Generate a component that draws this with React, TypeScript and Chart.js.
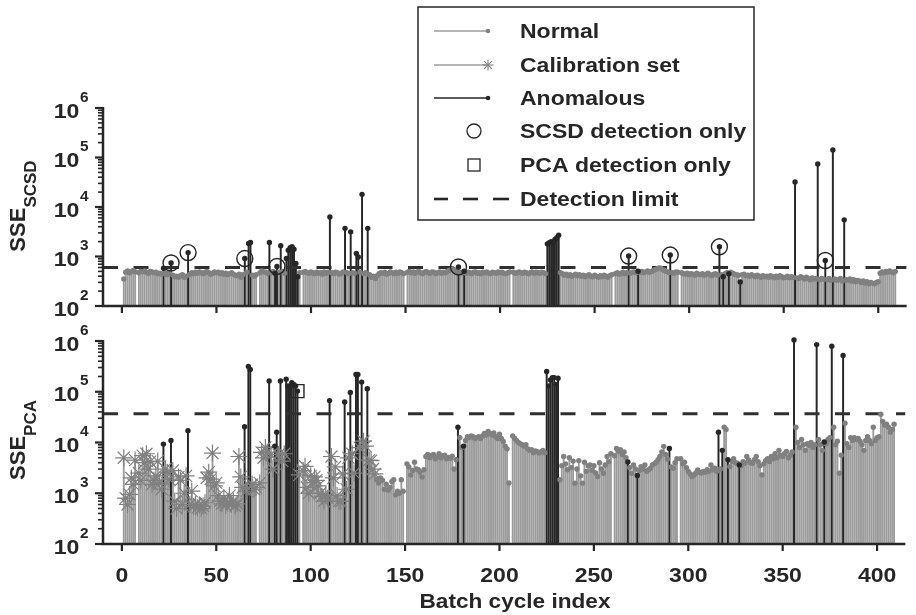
import React, { useEffect, useRef } from 'react';
import { Chart, registerables } from 'chart.js';

Chart.register(...registerables);

// ---------------- data ----------------
const xTicks = [0, 50, 100, 150, 200, 250, 300, 350, 400];
const yExponents = [2, 3, 4, 5, 6];

// SSE_SCSD per batch cycle (index 1..409), null = missing cycle
const scsdValues: (number | null)[] = [
  350, 480, 510, 470, 500, 520, 490, null, 470, 500,
  490, 510, 480, 460, 500, 490, 470, 480, 450, 460,
  440, 580, 470, 430, 480, 740, 420, 390, 400, 380,
  410, 430, 380, 400, 1200, 440, 470, 450, 480, 460,
  490, 470, 450, 480, 500, 470, 440, 460, 490, 470,
  480, 450, 470, 440, 460, 430, 450, 470, 440, 420,
  410, 440, 380, 430, 910, 480, 1830, 1920, 420, 400,
  430, null, 470, 510, 490, 480, 460, 1920, 470, 500,
  460, 630, 480, 1650, 500, 460, 910, 1340, 1500, 1580,
  1400, 720, 390, 470, null, 480, 500, 470, 460, 490,
  470, 450, 480, 460, 470, 440, 490, 460, 480, 6300,
  470, 450, 480, 470, 440, 460, 490, 3700, 470, 450,
  3150, 470, 460, 1150, 980, 480, 18000, 450, 470, 3700,
  430, 380, 400, 360, 410, 450, 470, 460, 480, 440,
  460, 490, 470, 450, 480, 460, 490, 470, 450, null,
  480, 500, 470, 490, 460, 480, 500, 470, 450, 480,
  500, 470, 460, 490, 480, 450, 470, 490, 460, 480,
  470, 500, 520, 540, 560, 530, 510, 615, 480, 470,
  505, 460, 480, 470, 450, 480, 490, 460, 470, 450,
  480, 470, 490, 460, 450, 480, 470, 460, 490, 470,
  480, 460, 450, 470, 490, null, 480, 460, 470, 490,
  470, 460, 480, 470, 450, 470, 490, 460, 480, 470,
  460, 480, 470, 450, 1800, 1900, 2000, 1850, 2200, 2400,
  2700, 470, 450, 420, 440, 410, 430, 400, 420, 440,
  410, 430, 400, 420, 390, 410, 430, 400, 390, 420,
  400, 380, 410, 390, 420, 400, 380, 410, 430, null,
  450, 470, 440, 460, 480, 450, 470, 1020, 460, 480,
  490, 470, 505, 480, 500, 470, 490, 510, 480, 500,
  520, 540, 560, 590, 580, 540, 520, 500, 480, 1070,
  470, 460, 490, 480, null, 470, 450, 440, 460, 430,
  450, 440, 420, 460, 440, 430, 450, 420, 440, 460,
  430, 410, 440, 450, 420, 1570, 430, 390, 450, 470,
  450, 480, 460, 440, 430, 420, 305, 430, 440, 410,
  420, 400, 430, 410, 390, 420, 400, 380, 410, 390,
  400, 380, 410, 390, 370, 400, 380, 410, 390, 370,
  380, 400, 370, 390, 380, 32000, 370, 360, 390, 370,
  350, 380, 360, 340, 370, 350, 360, 74000, 340, 360,
  350, 830, 340, 360, 330, 142000, 350, 330, 340, 360,
  320, 5500, 340, 330, 350, 320, 340, 310, 330, 320,
  300, 320, 290, 310, 280, 300, 290, 280, 300, 310,
  460, 490, 470, 500, 480, 510, 490, 470, 500,
];

// SSE_PCA per batch cycle (index 1..409)
const pcaValues: (number | null)[] = [
  5000, 800, 600, 950, 2000, 1500, 4500, null, 2500, 1800,
  5500, 4000, 6000, 3000, 4200, 1500, 1800, 2200, 4300, 1600,
  1200, 9300, 3000, 2600, 1900, 11000, 2800, 700, 500, 2100,
  1800, 600, 1000, 2200, 17000, 600, 1100, 550, 600, 520,
  580, 500, 560, 650, 2000, 2600, 1900, 6200, 1400, 1600,
  900, 700, 620, 800, 580, 650, 900, 600, 700, 560,
  620, 5300, 2100, 1300, 20500, 1100, 316000, 275000, 1500, 1200,
  1300, null, 1600, 6400, 5000, 8000, 6500, 163000, 5800, 3000,
  8500, 16000, 5800, 163000, 4300, 6000, 177000, 130000, 125000, 150000,
  140000, 130000, 103000, 2300, null, 2800, 3400, 1300, 1000, 2200,
  1600, 2100, 1800, 1400, 1000, 870, 700, 930, 800, 67000,
  5300, 2000, 3300, 900, 700, 690, 2400, 63000, 1200, 5000,
  97000, 6000, 2500, 219000, 219000, 7900, 155000, 10600, 8500, 115000,
  4500, 4400, 3000, 2400, 1900, 1600, 2000, 1800, 1200, 1500,
  1150, 1300, 1700, 1850, 930, 1100, 1000, 1850, 1100, null,
  3800, 3300, 2300, 2800, 4100, 3000, 2900, 2600, 2100, 2900,
  5300, 5800, 5000, 5500, 5800, 4800, 5200, 6000, 5000, 5500,
  5600, 4800, 5100, 4900, 5400, 3000, 4600, 20000, 12500, 8000,
  8500, 11000, 13000, 12500, 13500, 13000, 12000, 12500, 13000, 12000,
  13500, 15000, 14000, 16500, 15000, 14000, 15500, 13000, 12000, 14500,
  12000, 10500, 8500, 7500, 1600, null, 13500, 12000, 11000, 10000,
  9500, 9000, 8500, 9000, 7500, 7000, 7200, 6300, 6800, 6600,
  6200, 6500, 7000, 6300, 250000, 130000, 170000, 190000, 190000, 140000,
  185000, 1850, 3500, 5300, 3800, 2900, 5000, 3200, 4300, 1580,
  3000, 4400, 2200, 1580, 4100, 2700, 3500, 3600, 2800, 3500,
  2500, 2130, 4000, 3000, 2470, 3600, 5300, 4200, 6000, null,
  5500, 7600, 6700, 7200, 5800, 6500, 5000, 4150, 3200, 2470,
  3600, 3000, 2230, 2800, 3350, 3000, 3600, 2700, 2900, 3100,
  3600, 3800, 4100, 4600, 5300, 6500, 8400, 5800, 4700, 7600,
  3300, 3100, 4000, 4800, null, 4800, 3800, 4100, 3200, 2700,
  2400, 2130, 2300, 2500, 2870, 2600, 2500, 2700, 2600, 2900,
  2700, 3600, 2900, 3100, 2700, 16000, 3000, 7000, 20000, 18000,
  4600, 3350, 4200, 4800, 4000, 3900, 3600, 3500, 4200, 3900,
  5300, 4500, 4000, 3900, 4600, 5300, 4200, 3500, 2300, 3800,
  4400, 4800, 4200, 5300, 4800, 6000, 5000, 7000, 5600, 5300,
  6000, 6700, 5000, 5600, 6500, 1050000, 20000, 10000, 8000, 11500,
  9000, 7000, 9500, 8800, 10000, 8000, 9000, 850000, 11500, 9000,
  7000, 10200, 9500, 11500, 12500, 790000, 20000, 9000, 10600, 2470,
  5600, 520000, 24000, 9500, 8000, 12500, 11000, 12500, 11500, 12000,
  10600, 9000, 7000, 11000, 13000, 11000, 9500, 20000, 11000, 12500,
  13000, 36000, 26000, 22000, 23000, 20000, 16000, 18000, 23000,
];

const anomalousIdx = [
  22, 26, 35, 65, 67, 68, 78, 81, 82, 84, 87, 88, 89, 90, 91, 92, 93,
  110, 118, 121, 124, 125, 127, 130, 178, 181,
  225, 226, 227, 228, 229, 230, 231,
  268, 273, 290, 316, 318, 321, 327, 356, 368, 372, 376, 382,
];
const calibrationLastIdx = 134;
const scsdOnlyIdx = [26, 35, 65, 82, 178, 268, 290, 316, 372];
const pcaOnlyIdx = [93];
const scsdLimit = 600;
const pcaLimit = 37000;
const legendLabels = [
  'Normal',
  'Calibration set',
  'Anomalous',
  'SCSD detection only',
  'PCA detection only',
  'Detection limit',
];

// ---------------- styling ----------------
const DARK = '#262626';
const GRAY_STEM = '#9c9c9c';
const GRAY_DOT = '#808080';
const FONT = "'Liberation Sans', Arial, Helvetica, sans-serif";
const SX = 1.15; // horizontal stretch of the original bold font

function drawText(
  ctx: CanvasRenderingContext2D,
  s: string,
  x: number,
  y: number,
  size: number,
  align: 'left' | 'center' | 'right',
  sx = SX,
) {
  ctx.save();
  ctx.font = `bold ${size}px ${FONT}`;
  const w = ctx.measureText(s).width * sx;
  const x0 = align === 'left' ? x : align === 'center' ? x - w / 2 : x - w;
  ctx.translate(x0, y);
  ctx.scale(sx, 1);
  ctx.textAlign = 'left';
  ctx.textBaseline = 'alphabetic';
  ctx.fillText(s, 0, 0);
  ctx.restore();
  return w;
}

function measure(ctx: CanvasRenderingContext2D, s: string, size: number, sx = SX) {
  ctx.save();
  ctx.font = `bold ${size}px ${FONT}`;
  const w = ctx.measureText(s).width * sx;
  ctx.restore();
  return w;
}

function line(ctx: CanvasRenderingContext2D, x1: number, y1: number, x2: number, y2: number) {
  ctx.beginPath();
  ctx.moveTo(x1, y1);
  ctx.lineTo(x2, y2);
  ctx.stroke();
}

interface PanelCfg {
  titleMain: string;
  titleSub: string;
  titleCenterY: number;
  xLabels: boolean;
  legend: boolean;
  xTitleY: number;
  xLabelY: number;
}

function makePlugin(cfg: PanelCfg) {
  return {
    id: 'panelDecor',
    afterDraw(chart: any) {
      const ctx: CanvasRenderingContext2D = chart.ctx;
      const { left, right, top, bottom } = chart.chartArea;
      const xs = chart.scales.x;
      const ys = chart.scales.y;
      ctx.save();
      ctx.strokeStyle = DARK;
      ctx.fillStyle = DARK;
      ctx.lineCap = 'butt';

      // y ticks (major + minor), pointing outwards
      for (const e of yExponents) {
        for (let m = 1; m <= 9; m++) {
          if (e === yExponents[yExponents.length - 1] && m > 1) break;
          const py = ys.getPixelForValue(m * Math.pow(10, e));
          ctx.lineWidth = m === 1 ? 2.2 : 1.6;
          line(ctx, left - (m === 1 ? 8 : 5), py, left, py);
        }
      }
      // x ticks
      ctx.lineWidth = 2.2;
      for (const t of xTicks) {
        const px = xs.getPixelForValue(t);
        line(ctx, px, bottom, px, bottom + 7);
      }
      // axis lines
      ctx.lineWidth = 2.5;
      ctx.beginPath();
      ctx.moveTo(left, top - 1);
      ctx.lineTo(left, bottom);
      ctx.lineTo(right, bottom);
      ctx.stroke();

      // y tick labels 10^n
      for (const e of yExponents) {
        const py = ys.getPixelForValue(Math.pow(10, e));
        const sup = String(e);
        const wBase = measure(ctx, '10', 21, 1.1);
        const wSup = measure(ctx, sup, 14, 1.1);
        const x0 = 88 - wBase - wSup;
        drawText(ctx, '10', x0, py + 9.5, 21, 'left', 1.1);
        drawText(ctx, sup, x0 + wBase + 0.5, py - 6.5, 14, 'left', 1.1);
      }

      // x tick labels
      if (cfg.xLabels) {
        for (const t of xTicks) {
          drawText(ctx, String(t), xs.getPixelForValue(t), cfg.xLabelY, 20, 'center');
        }
        drawText(ctx, 'Batch cycle index', 515, cfg.xTitleY, 20, 'center', 1.13);
      }

      // y title with subscript (rotated)
      {
        const mainSize = 22;
        const subSize = 17;
        ctx.save();
        ctx.font = `bold ${mainSize}px ${FONT}`;
        const wm = ctx.measureText(cfg.titleMain).width;
        ctx.font = `bold ${subSize}px ${FONT}`;
        const ws = ctx.measureText(cfg.titleSub).width;
        ctx.translate(25, cfg.titleCenterY);
        ctx.rotate(-Math.PI / 2);
        const start = -(wm + ws) / 2;
        ctx.textAlign = 'left';
        ctx.textBaseline = 'alphabetic';
        ctx.font = `bold ${mainSize}px ${FONT}`;
        ctx.fillText(cfg.titleMain, start, 0);
        ctx.font = `bold ${subSize}px ${FONT}`;
        ctx.fillText(cfg.titleSub, start + wm, 11);
        ctx.restore();
      }

      // legend
      if (cfg.legend) {
        const bx = 418, by = 7, bw = 336, bh = 213;
        ctx.fillStyle = '#ffffff';
        ctx.fillRect(bx, by, bw, bh);
        ctx.strokeStyle = DARK;
        ctx.lineWidth = 1.5;
        ctx.strokeRect(bx, by, bw, bh);
        const rows = [31, 65, 98, 131, 165, 199];
        const lx1 = 434, lx2 = 488, cx = 474;
        // Normal
        ctx.strokeStyle = GRAY_STEM; ctx.lineWidth = 1.3;
        line(ctx, lx1, rows[0], lx2, rows[0]);
        ctx.fillStyle = GRAY_DOT;
        ctx.beginPath(); ctx.arc(lx2, rows[0], 2.3, 0, Math.PI * 2); ctx.fill();
        // Calibration
        ctx.strokeStyle = GRAY_STEM; ctx.lineWidth = 1.3;
        line(ctx, lx1, rows[1], lx2, rows[1]);
        ctx.strokeStyle = GRAY_DOT; ctx.lineWidth = 1.1;
        for (let k = 0; k < 4; k++) {
          const a = (k * Math.PI) / 4;
          const r = 5.5;
          line(ctx, lx2 - Math.cos(a) * r, rows[1] - Math.sin(a) * r, lx2 + Math.cos(a) * r, rows[1] + Math.sin(a) * r);
        }
        // Anomalous
        ctx.strokeStyle = DARK; ctx.lineWidth = 1.3;
        line(ctx, lx1, rows[2], lx2, rows[2]);
        ctx.fillStyle = DARK;
        ctx.beginPath(); ctx.arc(lx2, rows[2], 2.3, 0, Math.PI * 2); ctx.fill();
        // SCSD circle
        ctx.strokeStyle = DARK; ctx.lineWidth = 1.3;
        ctx.beginPath(); ctx.arc(cx, rows[3], 7, 0, Math.PI * 2); ctx.stroke();
        // PCA square
        ctx.strokeRect(cx - 6, rows[4] - 6, 12, 12);
        // Detection limit dashes
        ctx.lineWidth = 2.6;
        line(ctx, 434, rows[5], 448, rows[5]);
        line(ctx, 463, rows[5], 478, rows[5]);
        line(ctx, 493, rows[5], 509, rows[5]);
        ctx.fillStyle = DARK;
        legendLabels.forEach((lab, i) => {
          drawText(ctx, lab, 520, rows[i] + 7, 20, 'left');
        });
      }
      ctx.restore();
    },
  };
}

function buildConfig(
  values: (number | null)[],
  limit: number,
  markIdx: number[],
  markStyle: 'circle' | 'rect',
  useCalibration: boolean,
  padding: { left: number; right: number; top: number; bottom: number },
  plugin: any,
) {
  const normalStems: any[] = [];
  const anomStems: any[] = [];
  const normalPts: any[] = [];
  const calibPts: any[] = [];
  const anomPts: any[] = [];
  const markPts: any[] = [];
  values.forEach((v, i) => {
    const x = i + 1;
    if (v == null) return;
    const isAnom = anomalousIdx.includes(x);
    const stem = { x, y: [100, v] };
    const pt = { x, y: v };
    if (isAnom) {
      anomStems.push(stem);
      anomPts.push(pt);
    } else {
      normalStems.push(stem);
      if (useCalibration && x <= calibrationLastIdx) calibPts.push(pt);
      else normalPts.push(pt);
    }
    if (markIdx.includes(x)) markPts.push(pt);
  });

  const datasets: any[] = [
    {
      type: 'scatter', data: markPts, showLine: false, pointStyle: markStyle, clip: false,
      pointRadius: markStyle === 'rect' ? 9.2 : 8, pointBorderColor: DARK,
      pointBackgroundColor: 'rgba(0,0,0,0)', pointBorderWidth: 1.4, order: 0,
    },
    {
      type: 'scatter', data: anomPts, showLine: false, pointRadius: 2.7, clip: false,
      pointBackgroundColor: DARK, pointBorderColor: DARK, pointBorderWidth: 0, order: 1,
    },
    {
      type: 'scatter', data: normalPts, showLine: false, pointRadius: 2.7, clip: false,
      pointBackgroundColor: GRAY_DOT, pointBorderColor: GRAY_DOT, pointBorderWidth: 0, order: 2,
    },
    {
      type: 'scatter', data: calibPts, showLine: false, pointStyle: 'star', pointRadius: 8.5,
      pointBackgroundColor: GRAY_DOT, pointBorderColor: GRAY_DOT, pointBorderWidth: 1.2, order: 2,
    },
    {
      type: 'line', data: [{ x: -10, y: limit }, { x: 415, y: limit }],
      borderColor: '#303030', borderWidth: 3, borderDash: [15, 15.5], pointRadius: 0, order: 3,
    },
    {
      type: 'bar', data: anomStems, backgroundColor: DARK, barThickness: 1.3,
      grouped: false, order: 4,
    },
    {
      type: 'bar', data: normalStems, backgroundColor: GRAY_STEM, barThickness: 1.2,
      grouped: false, order: 5,
    },
  ];

  return {
    type: 'bar' as const,
    data: { datasets },
    options: {
      animation: false as const,
      responsive: false,
      devicePixelRatio: 1,
      events: [] as any[],
      layout: { padding },
      plugins: { legend: { display: false }, tooltip: { enabled: false } },
      scales: {
        x: { type: 'linear' as const, min: -10, max: 415, offset: false, display: false },
        y: { type: 'logarithmic' as const, min: 100, max: 1000000, display: false },
      },
    },
    plugins: [plugin],
  };
}

const TOP_H = 318;

export default function App() {
  const topRef = useRef<HTMLCanvasElement>(null);
  const botRef = useRef<HTMLCanvasElement>(null);

  useEffect(() => {
    const topPlugin = makePlugin({
      titleMain: 'SSE', titleSub: 'SCSD', titleCenterY: 206,
      xLabels: false, legend: true, xTitleY: 0, xLabelY: 0,
    });
    const botPlugin = makePlugin({
      titleMain: 'SSE', titleSub: 'PCA', titleCenterY: 440 - TOP_H,
      xLabels: true, legend: false, xTitleY: 608 - TOP_H, xLabelY: 582 - TOP_H,
    });
    const c1 = new Chart(
      topRef.current as HTMLCanvasElement,
      buildConfig(scsdValues, scsdLimit, scsdOnlyIdx, 'circle', false,
        { left: 103, right: 0, top: 108, bottom: TOP_H - 306 }, topPlugin) as any,
    );
    const c2 = new Chart(
      botRef.current as HTMLCanvasElement,
      buildConfig(pcaValues, pcaLimit, pcaOnlyIdx, 'rect', true,
        { left: 103, right: 0, top: 341 - TOP_H, bottom: 615 - 544 }, botPlugin) as any,
    );
    return () => {
      c1.destroy();
      c2.destroy();
    };
  }, []);

  return (
    <div style={{ position: 'absolute', left: 0, top: 0, width: 916, height: 615, background: '#ffffff' }}>
      <canvas ref={topRef} width={916} height={TOP_H} style={{ position: 'absolute', left: 0, top: 0 }} />
      <canvas ref={botRef} width={916} height={615 - TOP_H} style={{ position: 'absolute', left: 0, top: TOP_H }} />
    </div>
  );
}
